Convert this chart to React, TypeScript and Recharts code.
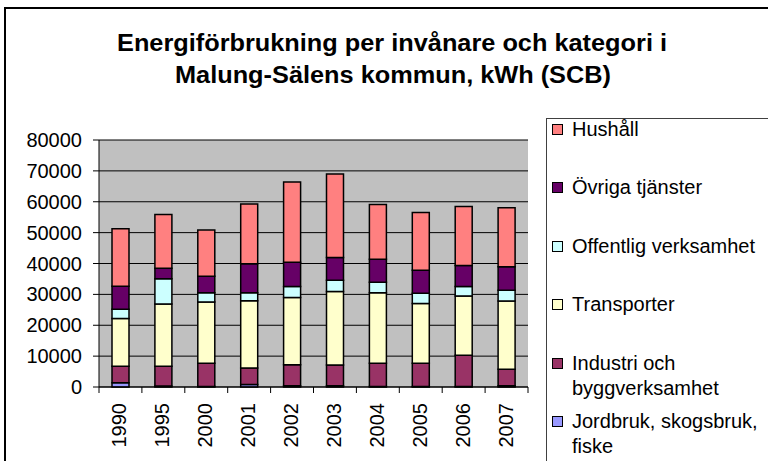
import React from 'react';
import { BarChart, Bar, XAxis, YAxis, CartesianGrid } from 'recharts';

const years = ['1990', '1995', '2000', '2001', '2002', '2003', '2004', '2005', '2006', '2007'];
const jordbruk = [1400, 300, 200, 800, 400, 400, 200, 150, 150, 400];
const industri = [5300, 6400, 7480, 5360, 6840, 6740, 7480, 7530, 10120, 5330];
const transporter = [15460, 20200, 19890, 21740, 21730, 23780, 22810, 19350, 19240, 22160];
const offentlig = [3030, 8130, 2920, 2590, 3570, 3680, 3460, 3350, 3030, 3460];
const ovriga = [7460, 3460, 5410, 9410, 7890, 7350, 7450, 7460, 6810, 7570];
const hushall = [18590, 17410, 14910, 19340, 25950, 27020, 17740, 18700, 19140, 19130];
const yTicks = [0, 10000, 20000, 30000, 40000, 50000, 60000, 70000, 80000];

const titleLines = ['Energiförbrukning per invånare och kategori i', 'Malung-Sälens kommun, kWh (SCB)'];

const series = [
  { key: 'jordbruk', name: 'Jordbruk, skogsbruk, fiske', lines: ['Jordbruk, skogsbruk,', 'fiske'], color: '#9999FF' },
  { key: 'industri', name: 'Industri och byggverksamhet', lines: ['Industri och', 'byggverksamhet'], color: '#993366' },
  { key: 'transporter', name: 'Transporter', lines: ['Transporter'], color: '#FFFFCC' },
  { key: 'offentlig', name: 'Offentlig verksamhet', lines: ['Offentlig verksamhet'], color: '#CCFFFF' },
  { key: 'ovriga', name: 'Övriga tjänster', lines: ['Övriga tjänster'], color: '#660066' },
  { key: 'hushall', name: 'Hushåll', lines: ['Hushåll'], color: '#FF8080' },
];

const data = years.map((y, i) => ({
  year: y,
  jordbruk: jordbruk[i],
  industri: industri[i],
  transporter: transporter[i],
  offentlig: offentlig[i],
  ovriga: ovriga[i],
  hushall: hushall[i],
}));

const FONT = '"Liberation Sans", Arial, sans-serif';

const XTick = (props: any) => {
  const { x, y, payload } = props;
  const off = payload && payload.offset ? payload.offset : 0;
  const isLast = payload.value === years[years.length - 1];
  return (
    <g>
      <line x1={x - off} x2={x - off} y1={y} y2={y + 6} stroke="#000" strokeWidth={1} />
      {isLast && <line x1={x + off} x2={x + off} y1={y} y2={y + 6} stroke="#000" strokeWidth={1} />}
      <text
        transform={`translate(${x - 1},${y + 16}) rotate(-90)`}
        textAnchor="end"
        dy="0.35em"
        fontSize={20}
        fontFamily={FONT}
        fill="#000"
      >
        {payload.value}
      </text>
    </g>
  );
};

export default function App() {
  const legendItems = [...series].reverse();
  return (
    <div style={{ position: 'absolute', left: 0, top: 0, width: 768, height: 461, overflow: 'hidden', background: '#fff', fontFamily: FONT }}>
      <div style={{ position: 'absolute', left: 4, top: 7, width: 800, height: 500, border: '2px solid #000', boxSizing: 'border-box' }} />
      <svg style={{ position: 'absolute', left: 0, top: 0 }} width={768} height={100}>
        <text x={392} y={51} textAnchor="middle" textLength={550} lengthAdjust="spacingAndGlyphs" fontWeight="bold" fontSize={23} fontFamily={FONT} fill="#000">
          {titleLines[0]}
        </text>
        <text x={393} y={83} textAnchor="middle" textLength={436} lengthAdjust="spacingAndGlyphs" fontWeight="bold" fontSize={23} fontFamily={FONT} fill="#000">
          {titleLines[1]}
        </text>
      </svg>
      <div style={{ position: 'absolute', left: 0, top: 0 }}>
        <BarChart width={768} height={461} data={data} margin={{ top: 140, right: 240, left: 0, bottom: 0 }}>
          <CartesianGrid vertical={false} stroke="#000" strokeWidth={1} fill="#C0C0C0" fillOpacity={1} />
          <XAxis
            dataKey="year"
            height={74}
            interval={0}
            tickSize={0}
            tickMargin={0}
            tickLine={false}
            axisLine={{ stroke: '#000', strokeWidth: 1 }}
            tick={<XTick />}
          />
          <XAxis xAxisId="t" dataKey="year" orientation="top" height={0} tick={false} tickLine={false} axisLine={{ stroke: '#808080', strokeWidth: 1 }} />
          <YAxis
            width={99}
            domain={[0, 80000]}
            ticks={yTicks}
            interval={0}
            tickSize={6}
            tickMargin={11}
            axisLine={{ stroke: '#000', strokeWidth: 1 }}
            tickLine={{ stroke: '#000', strokeWidth: 1 }}
            tick={{ fontSize: 20, fontFamily: FONT, fill: '#000' }}
          />
          <YAxis yAxisId="r" orientation="right" width={0} domain={[0, 80000]} tick={false} tickLine={false} axisLine={{ stroke: '#808080', strokeWidth: 1 }} />
          {series.map((s) => (
            <Bar
              key={s.key}
              dataKey={s.key}
              name={s.name}
              stackId="a"
              fill={s.color}
              stroke="#000"
              strokeWidth={1.5}
              barSize={17}
              isAnimationActive={false}
            />
          ))}
        </BarChart>
      </div>
      <div style={{ position: 'absolute', left: 546, top: 118, width: 400, height: 500, borderLeft: '1px solid #404040', borderTop: '1px solid #404040' }} />
      <div style={{ position: 'absolute', left: 552, top: 117, width: 216 }}>
        {legendItems.map((s) => (
          <div key={s.key} style={{ height: 58.4, position: 'relative' }}>
            <div style={{ position: 'absolute', left: 0, top: 7, width: 9, height: 9, background: s.color, border: '1px solid #000' }} />
            <div style={{ position: 'absolute', left: 20, top: 0, fontSize: 20, lineHeight: '25.5px', color: '#000', whiteSpace: 'nowrap' }}>
              {s.lines.map((l, i) => (
                <div key={i}>{l}</div>
              ))}
            </div>
          </div>
        ))}
      </div>
    </div>
  );
}
